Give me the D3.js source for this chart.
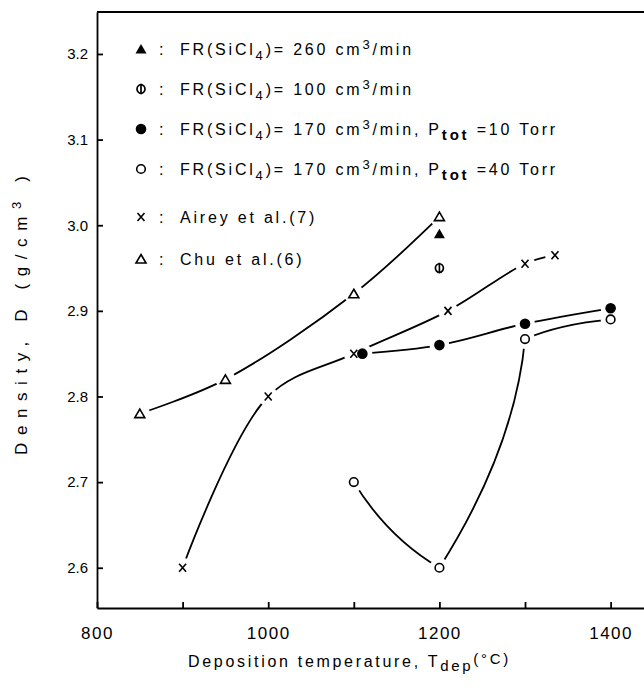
<!DOCTYPE html>
<html>
<head>
<meta charset="utf-8">
<script src="https://cdn.jsdelivr.net/npm/d3@7"></script>
<style>
  body { margin: 0; background: #fff; }
  svg { display: block; font-family: 'Liberation Sans', Arial, sans-serif; }
  .axis path, .axis line { stroke: #000; stroke-width: 1.8; }
  .axis text { fill: #000; }
</style>
</head>
<body>
<div id="vis"></div>
<script>
//data: deposition temperature (C) and density (g/cm3)
var chuT = [850, 950, 1100, 1200];
var chuD = [2.78, 2.82, 2.92, 3.01];
var aireyT = [900, 1000, 1100, 1210, 1300, 1335];
var aireyD = [2.60, 2.80, 2.85, 2.90, 2.955, 2.965];
var p10T = [1110, 1200, 1300, 1400];
var p10D = [2.85, 2.86, 2.885, 2.903];
var p40T = [1100, 1200, 1300, 1400];
var p40D = [2.70, 2.60, 2.867, 2.89];
var fr260T = [1200];
var fr260D = [2.99];
var fr100T = [1200];
var fr100D = [2.95];

var xTicks = [800, 900, 1000, 1100, 1200, 1300, 1400];
var xLabels = [800, 1000, 1200, 1400];
var yTicks = [2.6, 2.7, 2.8, 2.9, 3.0, 3.1, 3.2];

//layout
var width = 644, height = 693;
var plot = { left: 97, right: 644, top: 12, bottom: 608 };

var x = d3.scaleLinear().domain([800, 1439]).range([plot.left, plot.right]);
var y = d3.scaleLinear().domain([2.553, 3.249]).range([plot.bottom, plot.top]);

function zip(ts, ds) {
    return ts.map(function (t, i) { return { t: t, d: ds[i] }; });
}
var chu = zip(chuT, chuD);
var airey = zip(aireyT, aireyD);
var p10 = zip(p10T, p10D);
var p40 = zip(p40T, p40D);
var fr260 = zip(fr260T, fr260D);
var fr100 = zip(fr100T, fr100D);

var svg = d3.select('#vis').append('svg')
    .attr('width', width)
    .attr('height', height);
svg.append('rect').attr('width', width).attr('height', height).attr('fill', '#fff');

//axes
svg.append('g')
    .attr('class', 'axis')
    .attr('transform', 'translate(' + plot.left + ',0)')
    .call(d3.axisLeft(y).tickValues(yTicks).tickSizeInner(-6).tickSizeOuter(0)
        .tickPadding(9).tickFormat(d3.format('.1f')))
    .call(function (g) {
        g.selectAll('text').attr('font-size', 15).attr('font-family', 'Liberation Sans');
    });

svg.append('g')
    .attr('class', 'axis')
    .attr('transform', 'translate(0,' + plot.bottom + ')')
    .call(d3.axisBottom(x).tickValues(xTicks).tickSizeInner(-6).tickSizeOuter(0)
        .tickPadding(19).tickFormat(function (d) {
            return xLabels.indexOf(d) >= 0 ? d : '';
        }))
    .call(function (g) {
        g.selectAll('text').attr('font-size', 17).attr('letter-spacing', 1.5)
            .attr('font-family', 'Liberation Sans');
    });

//top frame line
svg.append('line')
    .attr('x1', plot.left).attr('x2', plot.right)
    .attr('y1', plot.top).attr('y2', plot.top)
    .attr('stroke', '#000').attr('stroke-width', 2);

//curves
var line = d3.line()
    .x(function (d) { return x(d.t); })
    .y(function (d) { return y(d.d); })
    .curve(d3.curveCatmullRom.alpha(0.5));

var curves = svg.append('g')
    .attr('fill', 'none')
    .attr('stroke', '#000')
    .attr('stroke-width', 1.8);

[chu, airey, p10].forEach(function (s) {
    curves.append('path').attr('d', line(s));
});

//the 40 Torr curve bends sharply at its points, so it is drawn segment by segment
var p40Bow = [[0.4, 0.65], [0.88, 0.52], [0.4, 0.75]];
p40.slice(1).forEach(function (b, i) {
    var a = p40[i];
    var x0 = x(a.t), y0 = y(a.d), x1 = x(b.t), y1 = y(b.d);
    var p = d3.path();
    p.moveTo(x0, y0);
    p.quadraticCurveTo(x0 + p40Bow[i][0] * (x1 - x0), y0 + p40Bow[i][1] * (y1 - y0), x1, y1);
    curves.append('path').attr('d', p.toString());
});

//white gaps round the markers
var all = [].concat(chu, airey, p10, p40, fr260, fr100);
svg.append('g').selectAll('circle')
    .data(all)
    .enter()
    .append('circle')
    .attr('cx', function (d) { return x(d.t); })
    .attr('cy', function (d) { return y(d.d); })
    .attr('r', 10)
    .attr('fill', '#fff');

//marker drawing
var markers = {
    triOpen: function (g) {
        g.append('path').attr('d', 'M0,-4.5L5,4L-5,4Z')
            .attr('fill', '#fff').attr('stroke', '#000').attr('stroke-width', 1.6);
    },
    triFill: function (g) {
        g.append('path').attr('d', 'M0,-5L5.5,4.5L-5.5,4.5Z').attr('fill', '#000');
    },
    phi: function (g) {
        g.append('ellipse').attr('rx', 4).attr('ry', 4.3)
            .attr('fill', 'none').attr('stroke', '#000').attr('stroke-width', 1.7);
        g.append('line').attr('y1', -5.3).attr('y2', 5.3)
            .attr('stroke', '#000').attr('stroke-width', 1.7);
    },
    dotFill: function (g) {
        g.append('circle').attr('r', 5.3).attr('fill', '#000');
    },
    dotOpen: function (g) {
        g.append('circle').attr('r', 4.3)
            .attr('fill', '#fff').attr('stroke', '#000').attr('stroke-width', 1.6);
    },
    cross: function (g) {
        g.append('path').attr('d', 'M-3.5,-4L3.5,4M3.5,-4L-3.5,4')
            .attr('stroke', '#000').attr('stroke-width', 1.6);
    }
};

function drawMarkers(data, kind) {
    data.forEach(function (d) {
        var g = svg.append('g')
            .attr('transform', 'translate(' + x(d.t) + ',' + y(d.d) + ')');
        markers[kind](g);
    });
}
drawMarkers(chu, 'triOpen');
drawMarkers(airey, 'cross');
drawMarkers(p10, 'dotFill');
drawMarkers(p40, 'dotOpen');
drawMarkers(fr260, 'triFill');
drawMarkers(fr100, 'phi');

//legend
var legendRows = [
    { kind: 'triFill', y: 55, parts: [['FR(SiCl'], ['4', 'sub'], [')= 260 cm'], ['3', 'sup'], ['/min']] },
    { kind: 'phi', y: 95, parts: [['FR(SiCl'], ['4', 'sub'], [')= 100 cm'], ['3', 'sup'], ['/min']] },
    { kind: 'dotFill', y: 135, parts: [['FR(SiCl'], ['4', 'sub'], [')= 170 cm'], ['3', 'sup'], ['/min, P'], ['tot', 'subb'], [' =10 Torr']] },
    { kind: 'dotOpen', y: 175, parts: [['FR(SiCl'], ['4', 'sub'], [')= 170 cm'], ['3', 'sup'], ['/min, P'], ['tot', 'subb'], [' =40 Torr']] },
    { kind: 'cross', y: 223, parts: [['Airey  et al.(7)']] },
    { kind: 'triOpen', y: 265, parts: [['Chu  et al.(6)']] }
];

function addParts(text, parts) {
    parts.forEach(function (p) {
        var ts = text.append('tspan').text(p[0]);
        if (p[1] === 'sub') ts.attr('font-size', 13).attr('dy', 5);
        if (p[1] === 'subb') ts.attr('font-size', 15).attr('font-weight', 'bold').attr('dy', 5);
        if (p[1] === 'sup') ts.attr('font-size', 13).attr('dy', -6);
        //return to baseline after sub/superscript
        if (p[1]) {
            var back = p[1] === 'sup' ? 6 : -5;
            ts.attr('data-back', back);
        }
    });
    //fix baseline shifts on the tspan following a shifted one
    var spans = text.selectAll('tspan').nodes();
    spans.forEach(function (n, i) {
        var back = n.getAttribute('data-back');
        if (back && spans[i + 1]) spans[i + 1].setAttribute('dy', back);
    });
}

var legend = svg.append('g').attr('font-size', 16).attr('letter-spacing', 2.8);
legendRows.forEach(function (r) {
    var g = legend.append('g').attr('transform', 'translate(141,' + (r.y - 6) + ')');
    markers[r.kind](g);
    legend.append('text').attr('x', 159).attr('y', r.y).text(':');
    var t = legend.append('text').attr('x', 180).attr('y', r.y);
    addParts(t, r.parts);
});

//axis titles
var xt = svg.append('text')
    .attr('x', 188).attr('y', 667)
    .attr('font-size', 16).attr('letter-spacing', 2.7);
addParts(xt, [['Deposition  temperature, T'], ['dep', 'sub'], ['(°C)', 'sup']]);
xt.selectAll('tspan').filter(function (d, i) { return i === 1; }).attr('font-size', 15).attr('dy', 4);
xt.selectAll('tspan').filter(function (d, i) { return i === 2; }).attr('font-size', 15).attr('dy', -7);

var yt = svg.append('text')
    .attr('transform', 'translate(27,455) rotate(-90)')
    .attr('font-size', 17).attr('letter-spacing', 7.6);
addParts(yt, [['Density,  D (g/cm'], ['3', 'sup'], [' )']]);
</script>
</body>
</html>
